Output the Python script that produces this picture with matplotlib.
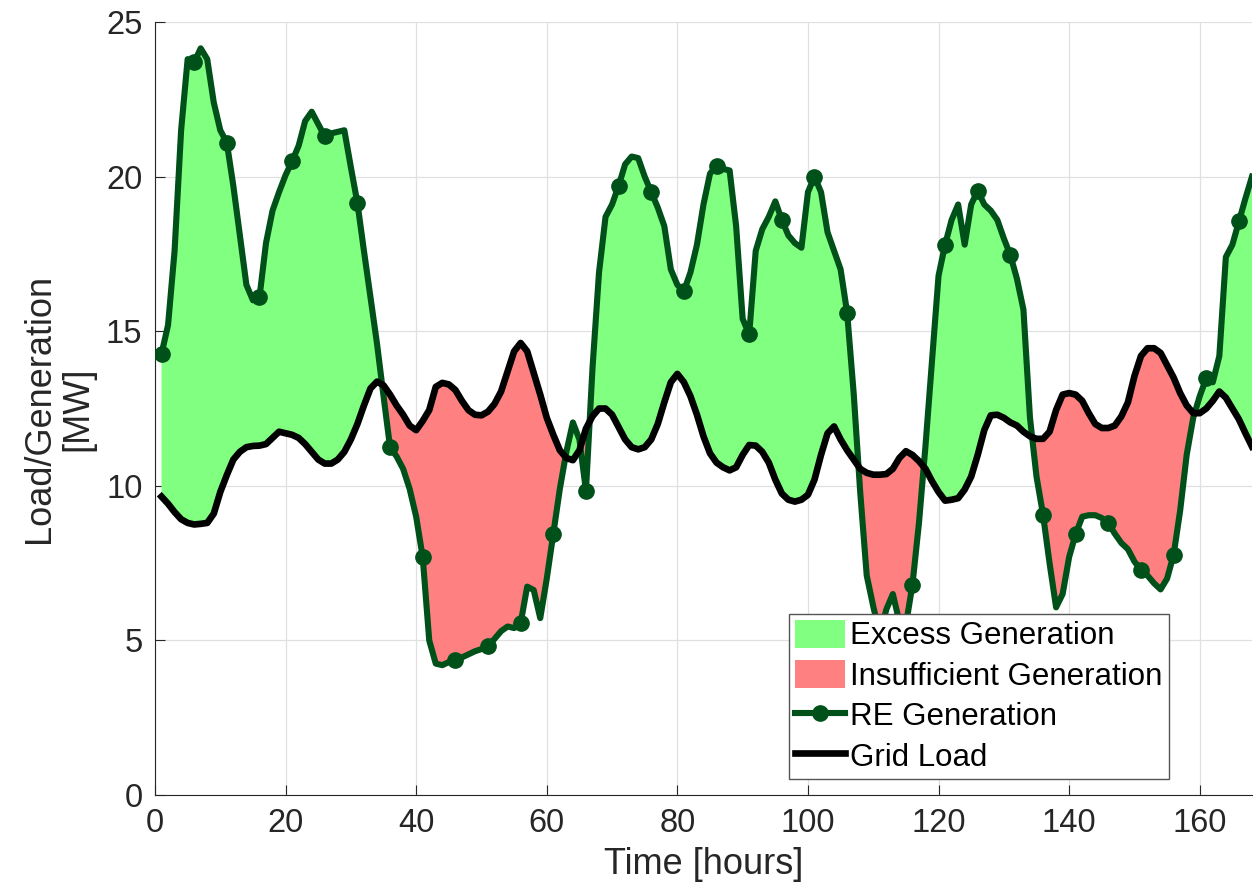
import matplotlib
matplotlib.use("Agg")
import matplotlib.pyplot as plt
from matplotlib.patches import Patch
from matplotlib.lines import Line2D
import numpy as np

plt.rcParams['font.family'] = ['Liberation Sans', 'DejaVu Sans']

# hours 1..168
hours = np.arange(1, 169)

# RE generation [MW]
re_gen = [14.27, 15.2, 17.6, 21.5, 23.8, 23.7, 24.15, 23.8, 22.4, 21.5, 21.1, 19.7,
          18.1, 16.5, 16.0, 16.1, 17.85, 18.9, 19.5, 20.05, 20.5, 21.0, 21.8, 22.1,
          21.7, 21.3, 21.4, 21.45, 21.5, 20.3, 19.15, 17.6, 16.1, 14.6, 12.9, 11.25,
          10.95, 10.55, 9.9, 9.0, 7.69, 5.0, 4.25, 4.2, 4.3, 4.37, 4.45, 4.55,
          4.65, 4.72, 4.82, 5.05, 5.3, 5.45, 5.4, 5.56, 6.74, 6.63, 5.72, 7.0,
          8.45, 9.9, 11.1, 12.05, 11.5, 9.84, 13.8, 16.9, 18.7, 19.1, 19.7, 20.4,
          20.65, 20.6, 20.0, 19.5, 19.0, 18.4, 17.0, 16.5, 16.3, 16.9, 17.8, 19.1,
          20.1, 20.35, 20.25, 20.2, 18.4, 15.4, 14.9, 17.6, 18.3, 18.7, 19.2, 18.6,
          18.1, 17.85, 17.7, 19.5, 20.0, 19.5, 18.2, 17.6, 17.0, 15.6, 13.0, 9.8,
          7.1, 6.1, 5.2, 6.0, 6.5, 5.6, 5.5, 6.8, 8.8, 11.3, 14.05, 16.8,
          17.8, 18.6, 19.1, 17.8, 19.1, 19.55, 19.1, 18.9, 18.6, 18.0, 17.46, 16.7,
          15.7, 12.2, 10.3, 9.07, 7.5, 6.07, 6.5, 7.7, 8.44, 9.0, 9.05, 9.05,
          8.96, 8.79, 8.45, 8.15, 7.95, 7.55, 7.28, 7.1, 6.85, 6.65, 7.0, 7.77,
          9.2, 11.0, 12.2, 12.9, 13.48, 13.35, 14.2, 17.4, 17.8, 18.55, 19.3, 20.0]

# grid load [MW]
grid_load = [9.65, 9.42, 9.15, 8.92, 8.8, 8.75, 8.77, 8.8, 9.1, 9.8, 10.35, 10.85,
             11.1, 11.25, 11.29, 11.3, 11.35, 11.55, 11.75, 11.7, 11.65, 11.55, 11.35, 11.1,
             10.85, 10.72, 10.72, 10.85, 11.1, 11.5, 12.0, 12.6, 13.15, 13.37, 13.25, 12.95,
             12.6, 12.3, 11.95, 11.8, 12.1, 12.45, 13.2, 13.33, 13.28, 13.1, 12.75, 12.45,
             12.3, 12.28, 12.4, 12.65, 13.05, 13.7, 14.35, 14.62, 14.35, 13.65, 12.95, 12.2,
             11.65, 11.15, 10.9, 10.83, 11.15, 11.85, 12.25, 12.5, 12.5, 12.3, 11.9, 11.5,
             11.25, 11.18, 11.25, 11.5, 12.0, 12.7, 13.35, 13.62, 13.35, 12.9, 12.3, 11.6,
             11.05, 10.75, 10.6, 10.5, 10.6, 11.0, 11.32, 11.3, 11.1, 10.75, 10.2, 9.75,
             9.55, 9.49, 9.55, 9.71, 10.2, 11.0, 11.7, 11.92, 11.5, 11.15, 10.85, 10.55,
             10.42, 10.36, 10.36, 10.38, 10.55, 10.9, 11.12, 11.0, 10.8, 10.55, 10.15, 9.8,
             9.52, 9.55, 9.6, 9.88, 10.3, 11.0, 11.8, 12.28, 12.3, 12.2, 12.05, 11.95,
             11.75, 11.6, 11.52, 11.52, 11.75, 12.45, 12.95, 13.0, 12.95, 12.75, 12.35, 12.0,
             11.87, 11.87, 11.95, 12.25, 12.7, 13.55, 14.2, 14.45, 14.45, 14.3, 13.9, 13.5,
             13.0, 12.6, 12.35, 12.35, 12.5, 12.75, 13.05, 12.85, 12.5, 12.15, 11.7, 11.27]

gen = np.array(re_gen)
load = np.array(grid_load)

gen_col = '#00501a'
axis_col = '#262626'

fig = plt.figure(figsize=(12.56, 8.96), dpi=100)
ax = fig.add_axes([0.1234, 0.1127, 0.8734, 0.8627])

ax.fill_between(hours, gen, load, where=gen >= load, interpolate=True,
                color='#80ff80', linewidth=0, zorder=1)
ax.fill_between(hours, gen, load, where=gen < load, interpolate=True,
                color='#ff8080', linewidth=0, zorder=1)
ax.plot(hours, gen, color=gen_col, lw=4.4, marker='o', markersize=11,
        markevery=5, zorder=3)
ax.plot(hours, load, color='black', lw=4.8, zorder=4)

ax.set_xlim(0, 168)
ax.set_ylim(0, 25)
ax.set_xticks(np.arange(0, 161, 20))
ax.set_yticks(np.arange(0, 26, 5))
ax.grid(True, color='#e0e0e0', lw=0.9)
ax.set_axisbelow(True)

for s in ['top', 'right']:
    ax.spines[s].set_visible(False)
for s in ['left', 'bottom']:
    ax.spines[s].set_color(axis_col)
    ax.spines[s].set_linewidth(0.8)

ax.tick_params(direction='in', length=7, width=0.8, colors=axis_col,
               labelsize=23.5, pad=9)

ax.set_xlabel('Time [hours]', fontsize=26, color=axis_col, labelpad=6)
ax.set_ylabel('Load/Generation\n[MW]', fontsize=26, color=axis_col, labelpad=8,
              linespacing=1.1)

handles = [Patch(facecolor='#80ff80', edgecolor='none'),
           Patch(facecolor='#ff8080', edgecolor='none'),
           Line2D([], [], color=gen_col, lw=4.4, marker='o', markersize=11),
           Line2D([], [], color='black', lw=4.8)]
labels = ['Excess Generation', 'Insufficient Generation', 'RE Generation', 'Grid Load']
leg = ax.legend(handles, labels, loc='lower right', bbox_to_anchor=(0.924, 0.0207),
                fontsize=22.5, frameon=True, fancybox=False, framealpha=1,
                edgecolor='#555555', handlelength=1.6, handleheight=1.0,
                handletextpad=0.15, labelspacing=0.28, borderpad=0.2,
                borderaxespad=0)
leg.get_frame().set_linewidth(1.0)
leg.set_zorder(10)

fig.savefig('out.png', dpi=100)
